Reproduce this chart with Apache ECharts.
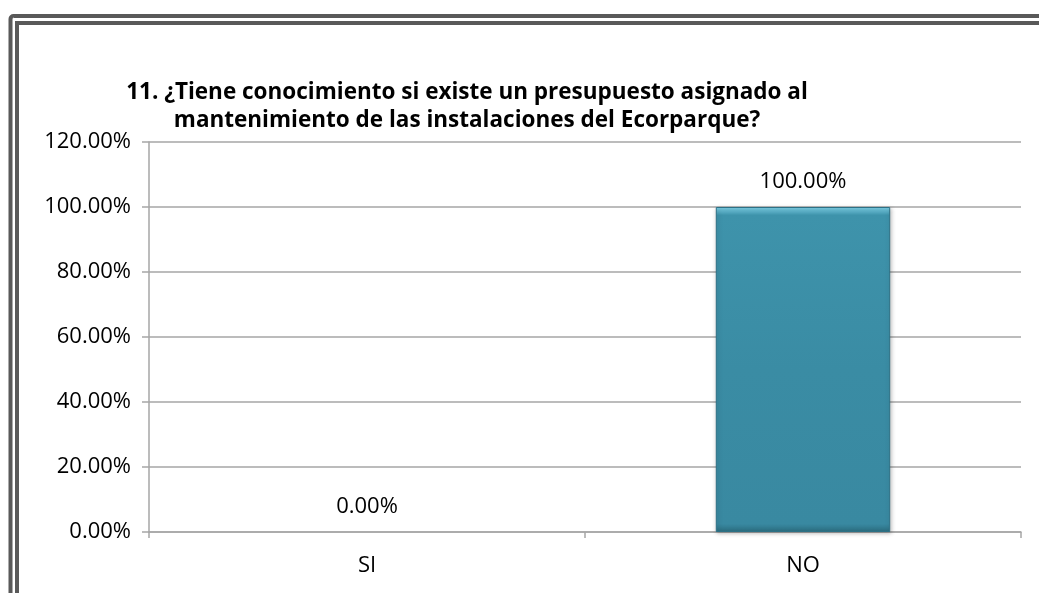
<!DOCTYPE html>
<html>
<head>
<meta charset="utf-8">
<script src="https://cdn.jsdelivr.net/npm/echarts@6/dist/echarts.min.js"></script>
<style>
  html, body { margin: 0; padding: 0; background: #fff; }
  #chart { width: 1039px; height: 593px; }
</style>
</head>
<body>
<div id="chart"></div>
<script>
const categories = ['SI', 'NO']
const values = [0, 100]
const yTicks = [0, 20, 40, 60, 80, 100, 120]

const chart = echarts.init(document.getElementById('chart'))
const gridColor = '#a6a6a6'
const font = "'Open Sans', 'Liberation Sans', sans-serif"

const option = {
  animation: false,
  backgroundColor: '#fff',
  title: {
    text: '11. ¿Tiene conocimiento si existe un presupuesto asignado al\nmantenimiento de las instalaciones del Ecorparque?',
    left: 462,
    top: 74,
    textAlign: 'center',
    textStyle: {
      fontFamily: font,
      fontSize: 22.5,
      fontWeight: 'bold',
      color: '#000',
      lineHeight: 28
    }
  },
  graphic: [
    {
      type: 'rect',
      shape: { x: 10.5, y: 16, width: 1100, height: 700, r: 3 },
      style: { fill: 'none', stroke: '#595959', lineWidth: 4 }
    },
    {
      type: 'rect',
      shape: { x: 17, y: 23, width: 1100, height: 700 },
      style: { fill: 'none', stroke: '#595959', lineWidth: 4 }
    }
  ],
  grid: {
    left: 149,
    right: 18,
    top: 142,
    bottom: 61
  },
  xAxis: {
    type: 'category',
    data: categories,
    axisLine: { lineStyle: { color: gridColor, width: 1.5 } },
    axisTick: { show: true, length: 6, lineStyle: { color: gridColor, width: 1.5 } },
    axisLabel: {
      margin: 23,
      fontFamily: font,
      fontSize: 22,
      color: '#000'
    }
  },
  yAxis: {
    type: 'value',
    min: yTicks[0],
    max: yTicks[yTicks.length - 1],
    interval: 20,
    axisLine: { show: true, lineStyle: { color: gridColor, width: 1.5 } },
    axisTick: { show: true, length: 7, lineStyle: { color: gridColor, width: 1.5 } },
    splitLine: { lineStyle: { color: gridColor, width: 1.5 } },
    axisLabel: {
      margin: 18,
      fontFamily: font,
      fontSize: 22,
      color: '#000',
      formatter: v => v.toFixed(2) + '%'
    }
  },
  series: [{
    type: 'bar',
    data: values.map(v => v === 0 ? { value: v, itemStyle: { borderWidth: 0, color: 'transparent', shadowBlur: 0 } } : v),
    barWidth: '40%',
    itemStyle: {
      color: new echarts.graphic.LinearGradient(0, 0, 0, 1, [
        { offset: 0, color: '#7fd3ea' },
        { offset: 0.025, color: '#3e93ab' },
        { offset: 0.5, color: '#3a8ca4' },
        { offset: 0.975, color: '#3989a1' },
        { offset: 1, color: '#2b6d80' }
      ]),
      borderColor: '#2d7186',
      borderWidth: 1,
      shadowColor: 'rgba(0,0,0,0.25)',
      shadowBlur: 4,
      shadowOffsetX: 1,
      shadowOffsetY: 1
    },
    label: {
      show: true,
      position: 'top',
      distance: 14,
      fontFamily: font,
      fontSize: 22,
      color: '#000',
      formatter: p => p.value.toFixed(2) + '%'
    }
  }]
}

chart.setOption(option)
</script>
</body>
</html>
